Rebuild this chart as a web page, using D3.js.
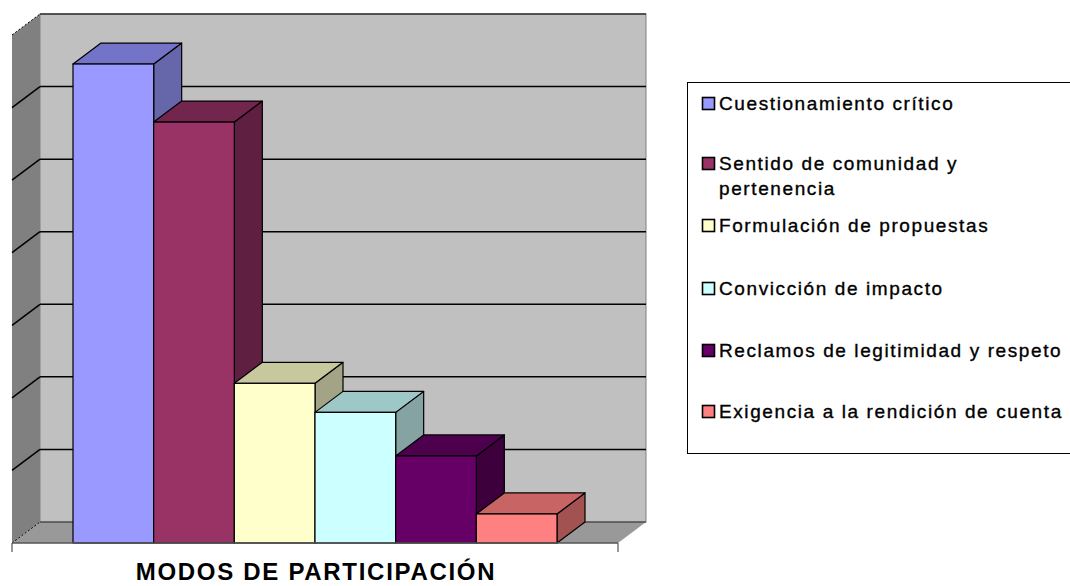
<!DOCTYPE html>
<html>
<head>
<meta charset="utf-8">
<script src="https://cdn.jsdelivr.net/npm/d3@7"></script>
<style>
  body { margin: 0; background: #fff; }
  svg { display: block; }
</style>
</head>
<body>
<svg width="1070" height="586"></svg>
<script>
// data
var series = ["Cuestionamiento crítico", "Sentido de comunidad y pertenencia", "Formulación de propuestas",
  "Convicción de impacto", "Reclamos de legitimidad y respeto", "Exigencia a la rendición de cuenta"];
var legendLines = [["Cuestionamiento crítico"], ["Sentido de comunidad y", "pertenencia"], ["Formulación de propuestas"],
  ["Convicción de impacto"], ["Reclamos de legitimidad y respeto"], ["Exigencia a la rendición de cuenta"]];
var values = [33, 29, 11, 9, 6, 2];
var yTicks = [0, 5, 10, 15, 20, 25, 30, 35];
var fronts = ["#9999FF", "#993366", "#FFFFCC", "#CCFFFF", "#660066", "#FF8080"];
var tops   = ["#7373C8", "#73264D", "#C8C89E", "#9EC8C8", "#4D004D", "#C86464"];
var sides  = ["#6666AA", "#5E1F40", "#A3A385", "#85A3A3", "#3D003D", "#A35252"];
var xTitle = "MODOS DE PARTICIPACIÓN";

function init() {
  var svg = d3.select("svg");
  var g = svg.append("g");

  // front plane + depth offset
  var left = 12, right = 618, dx = 28, dy = 21;
  var y = d3.scaleLinear().domain([0, 35]).range([543, 35]);
  var x = d3.scaleBand().domain(series).range([73, 557]).padding(0);

  // left wall
  g.append("polygon")
    .attr("points", [[left, y(35)], [left + dx, y(35) - dy], [left + dx, y(0) - dy], [left, y(0)]].join(" "))
    .attr("fill", "#808080");

  // floor
  g.append("polygon")
    .attr("points", [[left, y(0)], [left + dx, y(0) - dy], [right + dx, y(0) - dy], [right, y(0)]].join(" "))
    .attr("fill", "#999999");

  // back wall
  g.append("rect")
    .attr("x", left + dx).attr("y", y(35) - dy)
    .attr("width", right - left).attr("height", y(0) - y(35))
    .attr("fill", "#C0C0C0")
    .attr("stroke", "#808080");

  g.append("line")
    .attr("x1", left + dx).attr("x2", right + dx)
    .attr("y1", y(35) - dy).attr("y2", y(35) - dy)
    .attr("stroke", "#333").attr("stroke-width", 1.5);

  // gridlines on back wall and left wall
  var grid = yTicks.filter(function(d) { return d > 0 && d < 35; });
  g.selectAll(".gridback").data(grid).enter().append("line")
    .attr("class", "gridback")
    .attr("x1", left + dx).attr("x2", right + dx)
    .attr("y1", function(d) { return y(d) - dy; })
    .attr("y2", function(d) { return y(d) - dy; })
    .attr("stroke", "#000").attr("stroke-width", 1.5);

  g.selectAll(".gridside").data(grid).enter().append("line")
    .attr("class", "gridside")
    .attr("x1", left).attr("x2", left + dx)
    .attr("y1", function(d) { return y(d); })
    .attr("y2", function(d) { return y(d) - dy; })
    .attr("stroke", "#000").attr("stroke-width", 1.5);

  // back floor edge
  g.append("line")
    .attr("x1", left + dx).attr("x2", right + dx)
    .attr("y1", y(0) - dy).attr("y2", y(0) - dy)
    .attr("stroke", "#333").attr("stroke-width", 1);

  // dotted edges of the left wall
  [35, 0].forEach(function(v) {
    g.append("line")
      .attr("x1", left).attr("y1", y(v))
      .attr("x2", left + dx).attr("y2", y(v) - dy)
      .attr("stroke", "#000").attr("stroke-dasharray", "2,2");
  });

  // bars
  var bars = g.selectAll(".bar").data(values).enter().append("g").attr("class", "bar");

  bars.append("polygon")
    .attr("points", function(d, i) {
      var x1 = x(series[i]) + x.bandwidth(), yt = y(d);
      return [[x1, yt], [x1 + dx, yt - dy], [x1 + dx, y(0) - dy], [x1, y(0)]].join(" ");
    })
    .attr("fill", function(d, i) { return sides[i]; })
    .attr("stroke", "#000").attr("stroke-width", 1.2).attr("stroke-linejoin", "round");

  bars.append("polygon")
    .attr("points", function(d, i) {
      var x0 = x(series[i]), x1 = x0 + x.bandwidth(), yt = y(d);
      return [[x0, yt], [x1, yt], [x1 + dx, yt - dy], [x0 + dx, yt - dy]].join(" ");
    })
    .attr("fill", function(d, i) { return tops[i]; })
    .attr("stroke", "#000").attr("stroke-width", 1.2).attr("stroke-linejoin", "round");

  bars.append("rect")
    .attr("x", function(d, i) { return x(series[i]); })
    .attr("y", function(d) { return y(d); })
    .attr("width", x.bandwidth())
    .attr("height", function(d) { return y(0) - y(d); })
    .attr("fill", function(d, i) { return fronts[i]; })
    .attr("stroke", "#000").attr("stroke-width", 1.2);

  // front floor line + end ticks
  g.append("line")
    .attr("x1", left).attr("x2", right)
    .attr("y1", y(0)).attr("y2", y(0))
    .attr("stroke", "#555").attr("stroke-width", 1.5);
  [left, right].forEach(function(px) {
    g.append("line")
      .attr("x1", px).attr("x2", px)
      .attr("y1", y(0)).attr("y2", y(0) + 9)
      .attr("stroke", "#555").attr("stroke-width", 1.2);
  });

  // axis title
  svg.append("text")
    .attr("x", (left + right) / 2 + 1).attr("y", 580)
    .attr("text-anchor", "middle")
    .attr("font-family", "Liberation Sans, Arial, sans-serif")
    .attr("font-weight", "bold")
    .attr("font-size", "24px")
    .attr("letter-spacing", "1.7px")
    .text(xTitle);

  // legend
  var lg = svg.append("g");
  lg.append("rect")
    .attr("x", 687.5).attr("y", 82.5)
    .attr("width", 400).attr("height", 371)
    .attr("fill", "#fff").attr("stroke", "#000");

  var baselines = [110, 170, 232, 295, 357, 418];
  var items = lg.selectAll(".item").data(series).enter().append("g").attr("class", "item");
  items.append("rect")
    .attr("x", 702.5)
    .attr("y", function(d, i) { return baselines[i] - 12.5; })
    .attr("width", 12).attr("height", 12)
    .attr("fill", function(d, i) { return fronts[i]; })
    .attr("stroke", "#000").attr("stroke-width", 1.6);
  items.append("text")
    .attr("x", 719)
    .attr("y", function(d, i) { return baselines[i]; })
    .attr("font-family", "Liberation Sans, Arial, sans-serif")
    .attr("font-size", "19px")
    .attr("letter-spacing", "1.6px")
    .attr("fill", "#000")
    .attr("stroke", "#000").attr("stroke-width", 0.35)
    .selectAll("tspan").data(function(d, i) { return legendLines[i]; }).enter().append("tspan")
    .attr("x", 719)
    .attr("dy", function(d, j) { return j ? 25 : 0; })
    .text(function(d) { return d; });
}

init();
</script>
</body>
</html>
